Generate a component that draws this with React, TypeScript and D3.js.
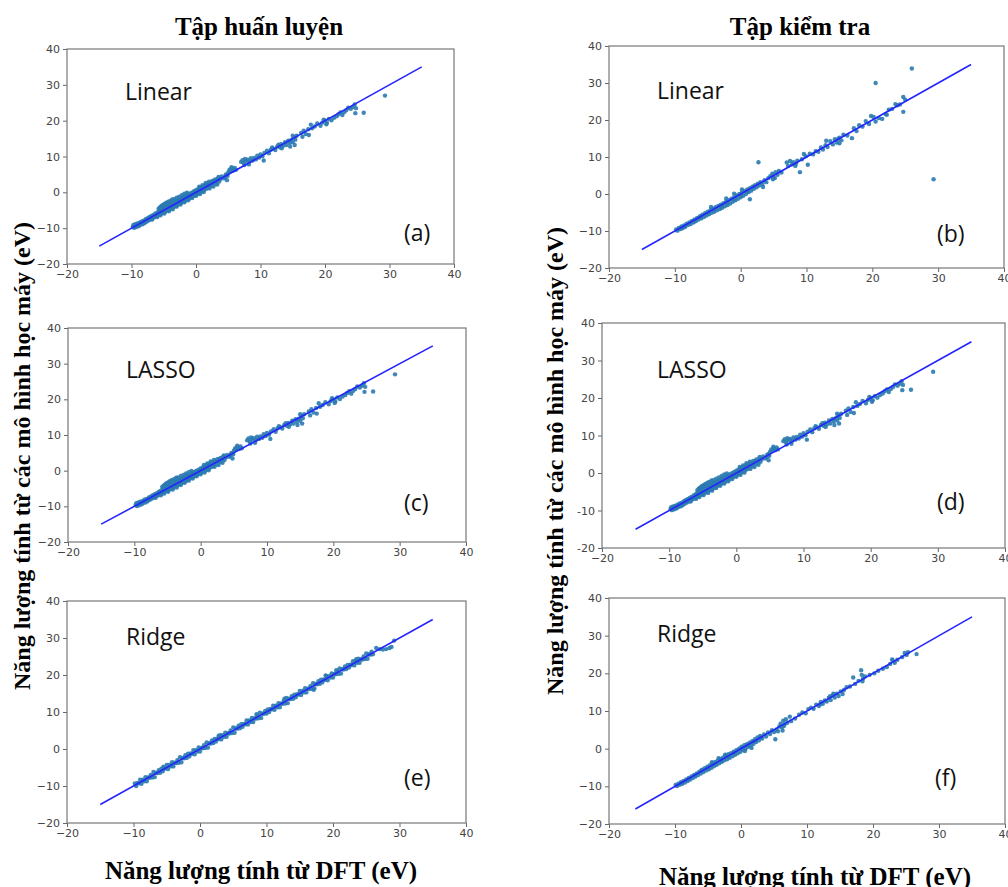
import React, { useEffect, useRef } from "react";
import * as d3 from "d3";

const W = 1008;
const H = 887;

const axisTicks = [-20, -10, 0, 10, 20, 30, 40];
const columnTitles = ["Tập huấn luyện", "Tập kiểm tra"];
const yLabel = "Năng lượng tính từ các mô hình học máy (eV)";
const xLabel = "Năng lượng tính từ DFT (eV)";
const modelNames = ["Linear", "Linear", "LASSO", "LASSO", "Ridge", "Ridge"];
const panelLetters = ["(a)", "(b)", "(c)", "(d)", "(e)", "(f)"];
const diagonalFrom = [-15, -15, -15, -15, -15, -16];
const diagonalTo = 35;

// [DFT energy, predicted energy]
const trainPoints: [number, number][] = [
  [-9.8,-9.6],[-9.7,-9.1],[-9.6,-9.9],[-9.5,-9.4],[-9.4,-8.9],[-9.3,-9.7],[-9.2,-9.2],[-9.1,-8.7],[-9.0,-9.5],[-8.9,-8.8],
  [-8.8,-9.3],[-8.7,-8.4],[-8.6,-9.0],[-8.5,-8.6],[-8.4,-8.1],[-8.3,-8.9],[-8.2,-8.3],[-8.1,-7.9],[-8.0,-8.6],[-7.9,-8.0],
  [-7.8,-7.5],[-7.7,-8.2],[-7.6,-7.7],[-7.5,-7.2],[-7.4,-7.9],[-7.3,-7.4],[-7.2,-6.9],[-7.1,-7.6],[-7.0,-7.1],[-6.9,-6.6],
  [-6.8,-7.3],[-6.7,-6.8],[-6.6,-6.3],[-6.5,-7.0],[-6.4,-6.5],[-6.3,-5.9],[-6.2,-6.7],[-6.1,-6.2],[-6.0,-5.6],[-5.9,-6.4],
  [-5.8,-5.8],[-5.7,-5.1],[-5.6,-6.1],[-5.5,-5.5],[-5.4,-4.7],[-5.3,-5.8],[-5.2,-5.2],[-5.1,-4.3],[-5.0,-5.6],[-4.9,-4.9],
  [-4.8,-4.0],[-4.7,-5.3],[-4.6,-4.6],[-4.5,-3.7],[-4.4,-5.0],[-4.3,-4.3],[-4.2,-3.4],[-4.1,-4.7],[-4.0,-4.0],[-3.9,-3.1],
  [-3.8,-4.4],[-3.7,-3.7],[-3.6,-2.9],[-3.5,-4.1],[-3.4,-3.4],[-3.3,-2.6],[-3.2,-3.8],[-3.1,-3.1],[-3.0,-2.3],[-2.9,-3.5],
  [-2.8,-2.8],[-2.7,-2.1],[-2.6,-3.2],[-2.5,-2.5],[-2.4,-1.8],[-2.3,-2.9],[-2.2,-2.2],[-2.1,-1.5],[-2.0,-2.6],[-1.9,-1.9],
  [-1.8,-1.2],[-1.7,-2.3],[-1.6,-1.6],[-1.5,-0.9],[-1.4,-2.0],[-1.3,-1.3],[-1.2,-0.6],[-1.1,-1.7],[-1.0,-1.0],[-0.9,-0.3],
  [-0.8,-1.4],[-0.7,-0.7],[-0.6,0.0],[-0.5,-1.1],[-0.4,-0.4],[-0.3,0.3],[-0.2,-0.8],[-0.1,-0.1],[0.0,0.6],[0.1,-0.5],
  [0.2,0.2],[0.3,0.9],[0.4,-0.2],[0.5,0.5],[0.6,1.2],[0.7,0.1],[0.8,0.8],[0.9,1.5],[1.0,0.4],[1.1,1.1],
  [1.2,1.8],[1.3,0.7],[1.4,1.4],[1.5,2.1],[1.6,1.0],[1.7,1.7],[1.8,2.4],[1.9,1.3],[2.0,2.0],[2.2,2.7],
  [2.4,1.8],[2.6,2.6],[2.8,3.3],[3.0,2.4],[3.2,3.1],[3.4,3.9],[3.6,3.0],[3.8,3.7],[4.0,4.4],[4.3,3.9],[4.6,4.9],
  [-5.8,-4.6],[-5.6,-4.2],[-5.4,-3.9],[-5.2,-3.6],[-5.0,-3.4],[-4.8,-3.2],[-4.6,-2.9],[-4.3,-2.6],[-4.0,-2.4],[-3.7,-2.0],
  [-3.4,-1.9],[-3.0,-1.5],[-2.6,-1.2],[-2.2,-0.8],[-1.8,-0.4],[-1.4,-0.1],
  [-6.8,-7.6],[-6.0,-6.9],[-5.5,-6.4],[-4.9,-5.9],[-4.2,-5.3],[-3.6,-4.7],[-3.0,-4.0],[-2.4,-3.4],[-1.8,-2.8],[-1.2,-2.2],
  [-0.6,-1.6],[0.0,-1.0],[0.6,-0.5],[1.2,0.1],[2.1,1.1],[2.7,1.6],[3.3,2.2],
  [0.5,1.6],[1.0,2.0],[1.5,2.6],[2.0,3.0],[2.5,3.2],[3.0,3.6],[3.5,4.3],
  [5.0,5.6],[5.2,6.3],[5.4,5.9],[5.6,6.6],[5.8,6.1],[6.0,6.8],[6.2,6.3],[5.5,7.0],[4.8,5.0],[4.5,4.2],[4.9,4.6],[4.8,3.4],
  [7.0,8.5],[7.2,9.0],[7.4,8.2],[7.6,9.3],[7.8,8.7],[8.0,9.1],[8.3,8.6],[8.5,9.5],[8.8,8.9],[9.0,9.6],
  [9.3,9.2],[7.5,7.6],[8.2,7.8],[9.5,10.2],[9.8,9.7],[10.0,10.6],[10.3,10.1],[10.5,8.9],
  [10.6,11.0],[11.0,11.6],[11.3,10.9],[11.6,11.9],[12.0,12.2],[12.3,11.8],[12.6,12.8],[13.0,12.6],[13.2,13.4],[13.5,13.0],
  [13.8,14.0],[14.0,13.2],[14.3,14.4],[14.5,13.8],[14.8,14.6],[15.0,14.0],[15.2,15.3],[15.4,14.7],[15.6,15.8],[15.0,15.8],
  [14.6,12.8],[13.3,12.3],[15.3,13.2],[12.8,13.3],[11.8,12.5],
  [16.3,16.6],[16.7,17.2],[17.0,16.3],[17.4,17.6],[17.8,18.9],[18.0,17.9],[17.5,16.0],[16.5,15.5],[18.4,18.4],[18.8,19.2],
  [19.3,18.6],[19.6,19.5],[20.0,20.0],[20.3,19.4],[20.6,20.5],
  [21.0,20.1],[21.4,20.8],[21.8,21.2],[22.1,21.8],[22.4,22.3],[22.7,21.6],[23.0,22.4],[23.3,22.9],[23.6,23.6],[24.0,23.3],
  [24.3,23.8],[24.6,24.5],[24.7,22.1],[24.8,23.5],[26.0,22.2],[29.3,27.0],[20.2,19.0],[19.8,20.3],
];

const linearTestPoints: [number, number][] = [
  [-9.8,-9.6],[-9.6,-9.9],[-9.4,-9.2],[-9.2,-9.5],[-9.0,-8.8],[-8.8,-9.2],[-8.6,-8.5],[-8.4,-8.8],[-8.2,-8.0],[-8.0,-8.4],
  [-7.8,-7.7],[-7.6,-8.1],[-7.4,-7.3],[-7.2,-7.7],[-7.0,-6.9],[-6.8,-7.3],[-6.6,-6.5],[-6.4,-6.9],[-6.2,-6.1],[-6.0,-6.6],
  [-5.8,-5.6],[-5.6,-6.2],[-5.4,-5.2],[-5.2,-5.8],[-5.0,-4.8],[-4.8,-5.5],[-4.6,-4.4],[-4.4,-5.1],[-4.2,-4.0],[-4.0,-4.8],
  [-3.8,-3.6],[-3.6,-4.4],[-3.4,-3.2],[-3.2,-4.1],[-3.0,-2.9],[-2.8,-3.7],[-2.6,-2.5],[-2.4,-3.3],[-2.2,-2.1],[-2.0,-3.0],
  [-1.8,-1.7],[-1.6,-2.6],[-1.4,-1.3],[-1.2,-2.1],[-1.0,-0.9],[-0.8,-1.7],[-0.6,-0.4],[-0.4,-1.3],[-0.2,0.0],[0.0,-0.9],
  [0.2,0.4],[0.4,-0.5],[0.6,0.8],[0.8,0.0],[1.0,1.2],[1.2,0.5],[1.4,1.6],[1.6,0.9],[1.8,2.0],[2.0,1.4],
  [2.2,2.4],[2.4,1.8],[2.6,2.8],[2.8,2.3],[3.0,3.2],[3.3,2.7],[3.6,3.7],[3.9,3.2],[4.2,4.3],
  [1.4,-1.4],[3.4,1.9],[-2.2,-1.2],[-1.0,0.1],[0.2,1.2],[-4.5,-3.5],
  [-7.0,-7.4],[-6.0,-6.0],[-5.0,-5.3],[-4.0,-4.3],[-3.0,-3.4],[-2.0,-2.5],[-1.0,-1.5],[0.0,-0.3],[1.0,0.7],[2.0,2.0],
  [-8.5,-8.9],[-9.0,-9.3],
  [4.5,4.8],[4.8,5.5],[5.0,4.6],[5.3,5.9],[5.6,5.2],[5.8,6.2],[6.2,5.8],[5.2,4.3],[4.9,4.0],
  [7.0,8.5],[7.2,7.6],[7.5,8.9],[7.8,8.0],[8.0,8.6],[8.3,7.6],[8.6,9.0],[9.0,5.9],[9.3,9.4],[9.6,10.8],
  [9.9,10.2],[8.4,8.2],[10.2,7.9],
  [10.5,10.9],[11.0,10.7],[11.4,11.6],[11.8,11.4],[12.2,12.6],[12.5,12.0],[12.9,13.2],[13.2,12.7],[13.6,14.3],[14.0,13.4],
  [14.3,14.8],[14.6,13.9],[15.0,15.2],[15.3,14.5],[15.6,16.0],[15.0,13.7],[13.0,14.4],[14.8,14.9],
  [16.2,15.8],[16.9,15.1],[17.2,17.8],[17.6,17.0],[18.0,18.6],[18.5,18.2],[19.0,19.7],[19.5,18.9],[19.8,21.1],[20.2,20.8],
  [20.5,19.6],[21.0,20.5],[21.5,20.3],[22.0,21.6],[22.2,21.4],[22.5,22.8],[23.0,23.0],[23.5,24.3],[24.2,24.2],[24.7,26.2],
  [24.7,22.2],[25.0,25.5],[23.8,24.0],[20.5,30.0],[26.0,33.9],[29.3,4.0],[2.7,8.6],
];

const ridgeTrainPoints: [number, number][] = [
  [-9.8,-9.3],[-9.4,-9.2],[-9.0,-8.3],[-8.6,-8.3],[-8.2,-7.6],[-7.8,-7.7],[-7.4,-7.0],[-7.0,-6.2],[-6.6,-6.4],[-6.2,-5.7],
  [-5.8,-5.3],[-5.4,-5.2],[-5.0,-4.3],[-4.6,-4.3],[-4.2,-3.6],[-3.8,-3.7],[-3.4,-3.0],[-3.0,-2.2],[-2.6,-2.4],[-2.2,-1.7],
  [-1.8,-1.3],[-1.4,-1.2],[-1.0,-0.3],[-0.6,-0.3],[-0.2,0.4],[0.2,0.3],[0.6,1.0],[1.0,1.8],[1.4,1.6],[1.8,2.3],
  [2.2,2.7],[2.6,2.8],[3.0,3.7],[3.4,3.7],[3.8,4.4],[4.2,4.3],[4.6,5.0],[5.0,5.8],[5.4,5.6],[5.8,6.3],
  [6.2,6.7],[6.6,6.8],[7.0,7.7],[7.4,7.7],[7.8,8.4],[8.2,8.3],[8.6,9.0],[9.0,9.8],[9.4,9.6],[9.8,10.3],
  [10.2,10.7],[10.6,10.8],[11.0,11.7],[11.4,11.7],[11.8,12.4],[12.2,12.3],[12.6,13.0],[13.0,13.8],[13.4,13.6],[13.8,14.3],
  [14.2,14.7],[14.6,14.8],[15.0,15.7],[15.4,15.7],[15.8,16.4],[16.2,16.3],[16.6,17.0],[17.0,17.8],[17.4,17.6],[17.8,18.3],
  [18.2,18.7],[18.6,18.8],[19.0,19.7],[19.4,19.7],[19.8,20.4],[20.2,20.3],[20.6,21.0],[21.0,21.8],[21.4,21.6],[21.8,22.3],
  [22.2,22.7],[22.6,22.8],[23.0,23.7],[23.4,23.7],[23.8,24.4],[24.2,24.3],[24.6,25.0],[25.0,25.8],[25.4,25.6],[25.8,26.3],
  [-9.6,-10.0],[-9.2,-9.3],[-8.8,-9.4],[-8.4,-8.7],[-8.0,-8.7],[-7.6,-7.8],[-7.2,-7.7],[-6.8,-7.6],[-6.4,-6.5],[-6.0,-6.4],
  [-5.6,-6.0],[-5.2,-5.3],[-4.8,-5.4],[-4.4,-4.7],[-4.0,-4.7],[-3.6,-3.8],[-3.2,-3.7],[-2.8,-3.6],[-2.4,-2.5],[-2.0,-2.4],
  [-1.6,-2.0],[-1.2,-1.3],[-0.8,-1.4],[-0.4,-0.7],[0.0,-0.7],[0.4,0.2],[0.8,0.3],[1.2,0.4],[1.6,1.5],[2.0,1.6],
  [2.4,2.0],[2.8,2.7],[3.2,2.6],[3.6,3.3],[4.0,3.3],[4.4,4.2],[4.8,4.3],[5.2,4.4],[5.6,5.5],[6.0,5.6],
  [6.4,6.0],[6.8,6.7],[7.2,6.6],[7.6,7.3],[8.0,7.3],[8.4,8.2],[8.8,8.3],[9.2,8.4],[9.6,9.5],[10.0,9.6],
  [10.4,10.0],[10.8,10.7],[11.2,10.6],[11.6,11.3],[12.0,11.3],[12.4,12.2],[12.8,12.3],[13.2,12.4],[13.6,13.5],[14.0,13.6],
  [14.4,14.0],[14.8,14.7],[15.2,14.6],[15.6,15.3],[16.0,15.3],[16.4,16.2],[16.8,16.3],[17.2,16.4],[17.6,17.5],[18.0,17.6],
  [18.4,18.0],[18.8,18.7],[19.2,18.6],[19.6,19.3],[20.0,19.3],[20.4,20.2],[20.8,20.3],[21.2,20.4],[21.6,21.5],[22.0,21.6],
  [22.4,22.0],[22.8,22.7],[23.2,22.6],[23.6,23.3],[24.0,23.3],[24.4,24.2],[24.8,24.3],[25.2,24.4],[25.6,25.5],[26.0,25.6],
  [17.1,16.0],[18.9,19.9],[12.7,13.6],[8.5,9.4],[-5.5,-4.8],[2.8,3.5],[20.5,21.3],[23.5,24.3],
  [26.5,27.3],[27.0,27.0],[27.5,26.9],[28.0,27.0],[28.5,27.3],[28.8,27.6],[29.2,29.3],
];

const ridgeTestPoints: [number, number][] = [
  [-9.9,-9.6],[-9.7,-9.9],[-9.5,-9.3],[-9.3,-9.6],[-9.1,-8.9],[-8.9,-9.3],[-8.7,-8.6],[-8.5,-9.0],[-8.3,-8.2],[-8.1,-8.6],
  [-7.9,-7.8],[-7.7,-8.2],[-7.5,-7.4],[-7.3,-7.8],[-7.1,-7.0],[-6.9,-7.4],[-6.7,-6.6],[-6.5,-7.0],[-6.3,-6.1],[-6.1,-6.6],
  [-5.9,-5.6],[-5.7,-6.2],[-5.5,-5.2],[-5.3,-5.8],[-5.1,-4.8],[-4.9,-5.5],[-4.7,-4.4],[-4.5,-5.1],[-4.3,-3.9],[-4.1,-4.7],
  [-3.9,-3.5],[-3.7,-4.3],[-3.5,-3.1],[-3.3,-3.9],[-3.1,-2.7],[-2.9,-3.5],[-2.7,-2.3],[-2.5,-3.1],[-2.3,-1.9],[-2.1,-2.8],
  [-1.9,-1.5],[-1.7,-2.4],[-1.5,-1.2],[-1.3,-2.0],[-1.1,-0.8],[-0.9,-1.6],[-0.7,-0.4],[-0.5,-1.2],[-0.3,0.0],[-0.1,-0.8],
  [0.1,0.5],[0.3,-0.4],[0.5,0.9],[0.7,0.0],[0.9,1.2],[1.1,0.5],[1.3,1.6],[1.5,0.9],[1.7,2.0],[1.9,1.3],
  [2.1,2.5],[2.3,1.8],[2.5,3.0],[2.7,2.2],[2.9,3.4],[3.2,2.7],[3.5,3.8],[3.8,3.2],[4.1,4.3],[4.4,3.9],
  [-6.0,-5.8],[-5.0,-5.2],[-4.0,-4.1],[-3.0,-3.2],[-2.0,-2.1],[-1.0,-1.1],[0.0,0.1],[1.0,0.9],[2.0,1.9],[3.0,3.0],
  [-4.4,-3.6],[-3.4,-2.5],[-2.4,-1.6],[0.6,-0.6],[1.6,0.2],[-8.0,-8.2],[-9.0,-9.2],[-7.0,-7.2],
  [4.7,4.9],[5.0,4.4],[5.2,2.5],[5.4,5.1],[5.6,4.6],[5.8,5.9],[6.0,6.6],[6.2,5.6],[6.4,7.4],[6.6,6.4],
  [6.8,7.8],[7.0,6.9],[6.3,4.8],[7.4,8.5],[7.6,7.3],[6.5,6.0],
  [8.2,8.0],[8.8,9.0],[9.3,9.6],[9.8,9.4],[10.2,10.5],[10.6,10.9],[11.0,10.6],[11.4,11.7],[11.8,11.3],[12.1,12.4],
  [12.4,11.9],[12.7,12.8],[13.0,12.5],[13.3,13.5],[13.6,12.9],[13.9,14.1],[14.2,13.6],[14.5,14.6],[14.8,14.0],[15.1,15.2],
  [15.4,14.5],[15.6,15.6],[13.5,13.9],[12.0,11.8],[14.0,14.6],
  [16.0,16.3],[16.5,16.5],[17.0,18.9],[17.3,17.2],[17.8,18.0],[18.2,20.8],[18.3,19.6],[18.5,18.6],[18.4,17.9],[18.8,19.2],
  [19.5,19.6],[20.2,20.0],[20.8,20.7],[21.5,21.2],[22.1,21.7],[22.6,22.5],[23.0,23.4],[23.3,22.8],[23.7,23.6],[24.4,24.3],
  [24.8,25.4],[25.1,24.9],[25.3,25.6],[26.6,25.1],[22.9,23.7],
];

const panelData = [trainPoints, linearTestPoints, trainPoints, trainPoints, ridgeTrainPoints, ridgeTestPoints];

// plot areas in page pixels
const panelBoxes = [
  { left: 67, right: 454, top: 49, bottom: 264 },
  { left: 609, right: 1004, top: 46, bottom: 268 },
  { left: 68, right: 466, top: 328, bottom: 542 },
  { left: 602, right: 1005, top: 323, bottom: 548 },
  { left: 67, right: 466, top: 601, bottom: 823 },
  { left: 609, right: 1005, top: 598, bottom: 824 },
];
const namePos = [[125, 100], [657, 99], [126, 378], [657, 378], [126, 645], [657, 642]];
const letterPos = [[404, 241], [937, 242], [404, 511], [937, 510], [404, 786], [935, 786]];

const App = () => {
  const ref = useRef<SVGSVGElement>(null);

  useEffect(() => {
    const svg = d3.select(ref.current);
    svg.selectAll("*").remove();

    panelBoxes.forEach((b, i) => {
      const x = d3.scaleLinear().domain([-20, 40]).range([b.left, b.right]);
      const y = d3.scaleLinear().domain([-20, 40]).range([b.bottom, b.top]);
      const g = svg.append("g");

      // panel (d) uses a plain hyphen on its y ticks
      const yFmt = i === 3 ? (d: any) => String(d) : d3.format("d");

      const xAxis = g
        .append("g")
        .attr("transform", `translate(0,${b.bottom})`)
        .call(d3.axisBottom(x).tickValues(axisTicks).tickSize(4).tickPadding(2).tickFormat(d3.format("d") as any));
      const yAxis = g
        .append("g")
        .attr("transform", `translate(${b.left},0)`)
        .call(d3.axisLeft(y).tickValues(axisTicks).tickSize(4).tickPadding(3).tickFormat(yFmt as any));

      [xAxis, yAxis].forEach((ax) => {
        ax.select(".domain").remove();
        ax.selectAll("line").attr("stroke", "#666");
        ax.selectAll("text")
          .attr("fill", "#444")
          .style("font-family", "DejaVu Sans")
          .style("font-size", "11px");
      });

      g.append("rect")
        .attr("x", b.left)
        .attr("y", b.top)
        .attr("width", b.right - b.left)
        .attr("height", b.bottom - b.top)
        .attr("fill", "none")
        .attr("stroke", "#777")
        .attr("stroke-width", 1.2);

      g.append("g")
        .selectAll("circle")
        .data(panelData[i])
        .join("circle")
        .attr("cx", (d) => x(d[0]))
        .attr("cy", (d) => y(d[1]))
        .attr("r", 2.2)
        .attr("fill", "#2a7ab0")
        .attr("fill-opacity", 0.9);

      g.append("line")
        .attr("x1", x(diagonalFrom[i]))
        .attr("y1", y(diagonalFrom[i]))
        .attr("x2", x(diagonalTo))
        .attr("y2", y(diagonalTo))
        .attr("stroke", "#2424ff")
        .attr("stroke-width", 1.6);

      g.append("text")
        .attr("x", namePos[i][0])
        .attr("y", namePos[i][1])
        .attr("fill", "#111")
        .style("font-family", "Open Sans")
        .style("font-size", "23px")
        .text(modelNames[i]);

      g.append("text")
        .attr("x", letterPos[i][0])
        .attr("y", letterPos[i][1])
        .attr("fill", "#111")
        .style("font-family", "Open Sans")
        .style("font-size", "23px")
        .text(panelLetters[i]);
    });

    const serif = (sel: any, size: number) =>
      sel
        .style("font-family", "Liberation Serif")
        .style("font-weight", "bold")
        .style("font-size", `${size}px`)
        .attr("fill", "#000")
        .attr("text-anchor", "middle");

    // column titles
    serif(svg.append("text").attr("x", 259).attr("y", 35).text(columnTitles[0]), 25);
    serif(svg.append("text").attr("x", 800).attr("y", 35).text(columnTitles[1]), 25);

    // y labels
    serif(
      svg.append("text")
        .attr("transform", "translate(22,456) rotate(-90)")
        .attr("dominant-baseline", "central")
        .text(yLabel),
      24
    );
    serif(
      svg.append("text")
        .attr("transform", "translate(555,461) rotate(-90)")
        .attr("dominant-baseline", "central")
        .text(yLabel),
      24
    );

    // x labels
    serif(svg.append("text").attr("x", 261).attr("y", 879).text(xLabel), 25);
    serif(svg.append("text").attr("x", 815).attr("y", 885).text(xLabel), 25);
  });

  return (
    <div id="chartArea">
      <svg
        ref={ref}
        width={W}
        height={H}
        style={{ position: "absolute", left: 0, top: 0, background: "#fff" }}
      ></svg>
    </div>
  );
};

export default App;
